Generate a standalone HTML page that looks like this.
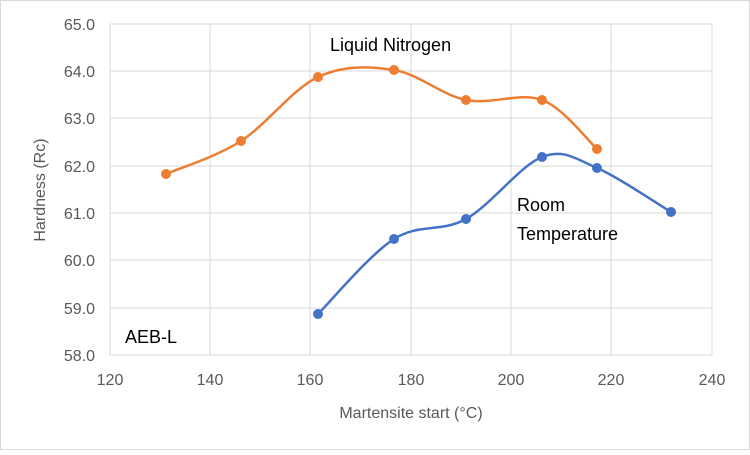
<!DOCTYPE html>
<html><head><meta charset="utf-8"><style>
body{margin:0;background:#fff}
svg text{font-family:"Liberation Sans",sans-serif;fill:#595959}
</style></head><body>
<svg id="s" width="750" height="450" viewBox="0 0 750 450" xmlns="http://www.w3.org/2000/svg">
<rect x="0.5" y="0.5" width="749" height="449" fill="#fff" stroke="#d9d9d9"/>
<g stroke="#d9d9d9" stroke-width="1">
<line x1="110" y1="24" x2="712" y2="24"/><line x1="110" y1="71" x2="712" y2="71"/>
<line x1="110" y1="118" x2="712" y2="118"/><line x1="110" y1="166" x2="712" y2="166"/>
<line x1="110" y1="213" x2="712" y2="213"/><line x1="110" y1="260" x2="712" y2="260"/>
<line x1="110" y1="308" x2="712" y2="308"/><line x1="110" y1="355" x2="712" y2="355"/>
<line x1="110" y1="24" x2="110" y2="355"/><line x1="210" y1="24" x2="210" y2="355"/>
<line x1="310" y1="24" x2="310" y2="355"/><line x1="411" y1="24" x2="411" y2="355"/>
<line x1="511" y1="24" x2="511" y2="355"/><line x1="611" y1="24" x2="611" y2="355"/>
<line x1="712" y1="24" x2="712" y2="355"/>
</g>
<g font-size="16" text-anchor="end">
<text x="95" y="30">65.0</text><text x="95" y="77">64.0</text><text x="95" y="124">63.0</text>
<text x="95" y="172">62.0</text><text x="95" y="219">61.0</text><text x="95" y="266">60.0</text>
<text x="95" y="314">59.0</text><text x="95" y="361">58.0</text>
</g>
<g font-size="16" text-anchor="middle">
<text x="110" y="385">120</text><text x="210" y="385">140</text><text x="310" y="385">160</text>
<text x="411" y="385">180</text><text x="511" y="385">200</text><text x="611" y="385">220</text>
<text x="712" y="385">240</text>
<text x="411" y="418">Martensite start (°C)</text>
<text transform="translate(45,190) rotate(-90)">Hardness (Rc)</text>
</g>
<text x="330" y="51" font-size="18" style="fill:#000">Liquid Nitrogen</text>
<text x="517" y="211" font-size="18" style="fill:#000">Room</text>
<text x="517" y="240" font-size="18" style="fill:#000">Temperature</text>
<text x="125" y="343" font-size="18" style="fill:#000">AEB-L</text>
<g id="g"></g>
</svg>
<script>
function path(p){var d="M"+p[0][0]+","+p[0][1];var t=1/6;
for(var i=0;i<p.length-1;i++){var p0=p[i-1]||p[i],p1=p[i],p2=p[i+1],p3=p[i+2]||p2;
d+=" C"+(p1[0]+(p2[0]-p0[0])*t)+","+(p1[1]+(p2[1]-p0[1])*t)+" "+(p2[0]-(p3[0]-p1[0])*t)+","+(p2[1]-(p3[1]-p1[1])*t)+" "+p2[0]+","+p2[1];}return d;}
var o=[[166,174],[241,141],[318,77],[394,70],[466,100],[542,100],[597,149]];
var b=[[318,314],[394,239],[466,219],[542,157],[597,168],[671,212]];
var h="";
[[o,"#ed7d31"],[b,"#4472c4"]].forEach(function(s){h+='<path d="'+path(s[0])+'" fill="none" stroke="'+s[1]+'" stroke-width="2.5"/>';
s[0].forEach(function(q){h+='<circle cx="'+q[0]+'" cy="'+q[1]+'" r="5" fill="'+s[1]+'"/>';});});
document.getElementById("g").innerHTML=h;
</script>
</body></html>
